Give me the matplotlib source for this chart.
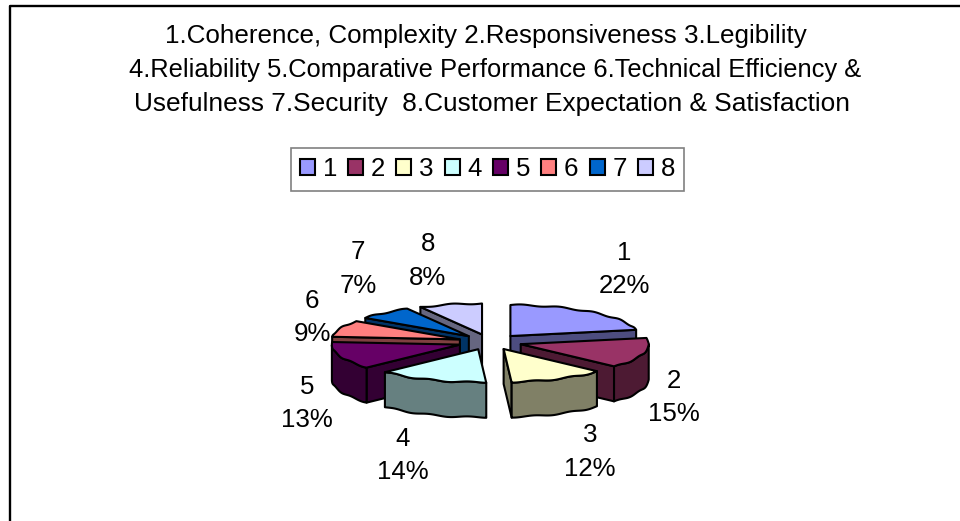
#!/usr/bin/env python3
"""
Exploded 3D style pie of service quality dimensions
"""
import numpy as np
import matplotlib
matplotlib.use('Agg')
import matplotlib.pyplot as plt
from matplotlib.patches import Polygon, Patch

plt.rcParams['font.family'] = ['Liberation Sans', 'DejaVu Sans']

labels = ['1', '2', '3', '4', '5', '6', '7', '8']
shares = [22, 15, 12, 14, 13, 9, 7, 8]
top_colors = ['#9999FF', '#993366', '#FFFFCC', '#CCFFFF',
              '#660066', '#FF8080', '#0066CC', '#CCCCFF']
side_colors = ['#4D4D80', '#4D1A33', '#808066', '#668080',
               '#330033', '#804040', '#003366', '#666680']
title_lines = ['1.Coherence, Complexity 2.Responsiveness 3.Legibility',
               '4.Reliability 5.Comparative Performance 6.Technical Efficiency &',
               'Usefulness 7.Security  8.Customer Expectation & Satisfaction']

# layout, in pixels of the 960x521 picture
CX, CY = 490, 342
RX, RY_BACK, RY_FRONT = 128, 31, 33
EXPLODE = 0.25
DEPTH = 35
FONT = 18.6
label_pos = [(624, 269.5), (674, 397.5), (590, 452), (403, 455.5),
             (307, 403.5), (312, 317.5), (358, 269), (428, 261)]
draw_order = [7, 6, 5, 0, 4, 1, 3, 2]

fig = plt.figure(figsize=(9.6, 5.21), dpi=100)
ax = fig.add_axes([0, 0, 1, 1])
ax.set_xlim(0, 960)
ax.set_ylim(521, 0)
ax.axis('off')

# only top and left of the frame are in the crop
ax.plot([9.5, 9.5, 960], [521, 6, 6], color='black', lw=1.7)

for line, x, y, size in zip(title_lines, [485.5, 495, 492], [36, 70, 104.5], [18.7, 18.4, 18.95]):
    ax.text(x, y, line, ha='center', va='center', fontsize=size)


def ellipse(angles, ox, oy):
    rad = np.radians(angles)
    # front of the pie sits a bit closer, so it is a bit deeper
    ry = np.where(np.sin(rad) < 0, RY_FRONT, RY_BACK)
    # slight ripple, the source arcs are bumpy
    ripple = 0.7 * np.sin(rad * 20)
    return np.column_stack([ox + RX * np.cos(rad), oy - ry * np.sin(rad) + ripple])


starts = 90 - np.cumsum([0] + shares[:-1]) * 3.6
ends = starts - np.array(shares) * 3.6

for i in draw_order:
    mid = (starts[i] + ends[i]) / 2
    ox = CX + EXPLODE * RX * np.cos(np.radians(mid))
    oy = CY - EXPLODE * RY_BACK * np.sin(np.radians(mid))
    arc_angles = np.linspace(starts[i], ends[i], 80)
    arc = ellipse(arc_angles, ox, oy)
    style = dict(edgecolor='black', linewidth=1.5, joinstyle='round')

    # radial walls, only when they face the viewer
    if np.cos(np.radians(starts[i])) < -1e-6:
        pt = arc[0]
        quad = [(ox, oy), pt, pt + [0, DEPTH], (ox, oy + DEPTH)]
        ax.add_patch(Polygon(quad, facecolor=side_colors[i], **style))
    if np.cos(np.radians(ends[i])) > 1e-6:
        pt = arc[-1]
        quad = [(ox, oy), pt, pt + [0, DEPTH], (ox, oy + DEPTH)]
        ax.add_patch(Polygon(quad, facecolor=side_colors[i], **style))

    # outer wall, only the part facing the viewer
    front = arc[np.sin(np.radians(arc_angles)) <= 0]
    if len(front) > 1:
        wall = np.vstack([front, front[::-1] + [0, DEPTH]])
        ax.add_patch(Polygon(wall, facecolor=side_colors[i], **style))

    top = np.vstack([[ox, oy], arc])
    ax.add_patch(Polygon(top, facecolor=top_colors[i], **style))

for lab, share, (x, y) in zip(labels, shares, label_pos):
    ax.text(x, y, f'{lab}\n{share}%', ha='center', va='center',
            fontsize=FONT, linespacing=1.5)

handles = [Patch(facecolor=c, edgecolor='black', linewidth=1.5) for c in top_colors]
leg = ax.legend(handles, labels, ncol=8, loc='center',
                bbox_to_anchor=(487.5, 169.5), bbox_transform=ax.transData,
                fontsize=FONT, fancybox=False, framealpha=1, edgecolor='#808080',
                handlelength=0.58, handleheight=0.58, handletextpad=0.3,
                columnspacing=0.43, borderpad=0.36, borderaxespad=0)
leg.get_frame().set_linewidth(1.2)

plt.savefig('out.png', dpi=100)
plt.close()
